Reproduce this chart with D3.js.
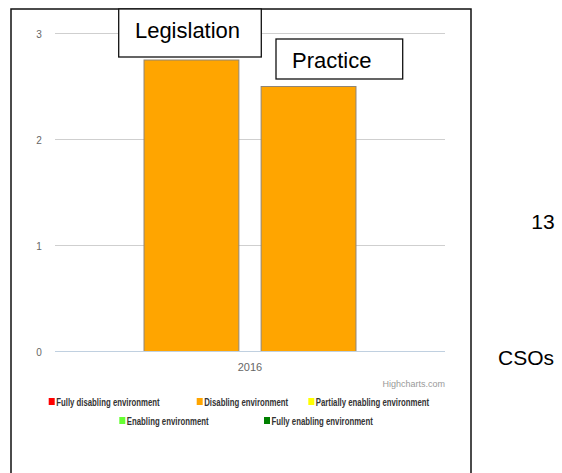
<!DOCTYPE html>
<html>
<head>
<meta charset="utf-8">
<script src="https://cdn.jsdelivr.net/npm/d3@7"></script>
<style>
  body { margin: 0; background: #fff; }
  text { font-family: Arial, "Liberation Sans", sans-serif; }
</style>
</head>
<body>
<div id="chart"></div>
<script>
// data
const categories = ['2016'];
const seriesNames = ['Legislation', 'Practice'];
const seriesValues = [2.75, 2.5];
const yTicks = [0, 1, 2, 3];
const legendLabels = ['Fully disabling environment', 'Disabling environment', 'Partially enabling environment',
  'Enabling environment', 'Fully enabling environment'];
const legendColors = ['#ff0000', '#ffa500', '#ffff00', '#66ff33', '#008000'];
const sideLabels = ['13', 'CSOs'];

const W = 562, H = 473;
const plot = { left: 55, right: 445, top: 33.5, bottom: 351.5 };

const svg = d3.select('#chart').append('svg').attr('width', W).attr('height', H);
svg.append('rect').attr('width', W).attr('height', H).attr('fill', '#fff');

const x0 = d3.scaleBand().domain(categories).range([plot.left, plot.right]).paddingOuter(0.42);
const x1 = d3.scaleBand().domain(seriesNames).range([0, x0.bandwidth()]).paddingInner(0.19);
const y = d3.scaleLinear().domain([0, 3]).range([plot.bottom, plot.top]);

// grid
svg.selectAll('.grid').data(yTicks.filter(d => d > 0)).join('line')
  .attr('x1', plot.left).attr('x2', plot.right)
  .attr('y1', d => y(d)).attr('y2', d => y(d))
  .attr('stroke', '#cfcfcf').attr('stroke-width', 1);

// bars
const rows = seriesNames.map((s, i) => ({ cat: categories[0], name: s, value: seriesValues[i] }));
svg.selectAll('.bar').data(rows).join('rect')
  .attr('x', d => x0(d.cat) + x1(d.name))
  .attr('y', d => y(d.value))
  .attr('width', x1.bandwidth())
  .attr('height', d => y(0) - y(d.value))
  .attr('fill', '#ffa500')
  .attr('stroke', '#8f8577').attr('stroke-width', 1);

// x axis line
svg.append('line')
  .attr('x1', plot.left).attr('x2', plot.right)
  .attr('y1', y(0)).attr('y2', y(0))
  .attr('stroke', '#c0d0e0').attr('stroke-width', 1);

// y labels
svg.selectAll('.ylab').data(yTicks).join('text')
  .attr('x', 39).attr('y', d => y(d) + 4)
  .attr('text-anchor', 'middle')
  .attr('font-size', 10).attr('fill', '#666')
  .text(d => d);

// x label
svg.selectAll('.xlab').data(categories).join('text')
  .attr('x', d => x0(d) + x0.bandwidth() / 2).attr('y', 371)
  .attr('text-anchor', 'middle')
  .attr('font-size', 11).attr('fill', '#666')
  .text(d => d);

svg.append('text').attr('x', plot.right).attr('y', 387)
  .attr('text-anchor', 'end').attr('font-size', 9).attr('fill', '#999')
  .text('Highcharts.com');

// legend
const legendPos = [[48.7, 402], [196.7, 402], [308.3, 402], [119.3, 421], [264, 421]];
const leg = svg.selectAll('.leg').data(legendLabels).join('g')
  .attr('transform', (d, i) => `translate(${legendPos[i][0]},${legendPos[i][1]})`);
leg.append('rect').attr('x', 0).attr('y', -4).attr('width', 6).attr('height', 7)
  .attr('fill', (d, i) => legendColors[i]);
leg.append('text').attr('transform', 'translate(7.5,3.5) scale(0.78,1)')
  .attr('font-size', 10).attr('font-weight', 'bold').attr('fill', '#333')
  .text(d => d);

// outer frame
svg.append('path')
  .attr('d', `M11,${H + 2}V9H471V${H + 2}`)
  .attr('fill', 'none').attr('stroke', '#111').attr('stroke-width', 1.5);

// series label boxes
const boxes = [
  { x: 118.7, y: 9, w: 142.6, h: 48, tx: 187.5, ty: 37.5, anchor: 'middle' },
  { x: 276, y: 39, w: 126.7, h: 40, tx: 292, ty: 68, anchor: 'start' }
];
const bx = svg.selectAll('.box').data(seriesNames).join('g');
bx.append('rect')
  .attr('x', (d, i) => boxes[i].x).attr('y', (d, i) => boxes[i].y)
  .attr('width', (d, i) => boxes[i].w).attr('height', (d, i) => boxes[i].h)
  .attr('fill', '#fff').attr('stroke', '#111').attr('stroke-width', 1.3);
bx.append('text')
  .attr('x', (d, i) => boxes[i].tx).attr('y', (d, i) => boxes[i].ty)
  .attr('text-anchor', (d, i) => boxes[i].anchor)
  .attr('font-size', 22).attr('fill', '#000')
  .text(d => d);

// side labels
svg.selectAll('.side').data(sideLabels).join('text')
  .attr('x', (d, i) => i === 0 ? 543 : 526)
  .attr('y', (d, i) => i === 0 ? 229 : 365)
  .attr('text-anchor', 'middle')
  .attr('font-size', 21).attr('fill', '#000')
  .text(d => d);
</script>
</body>
</html>
